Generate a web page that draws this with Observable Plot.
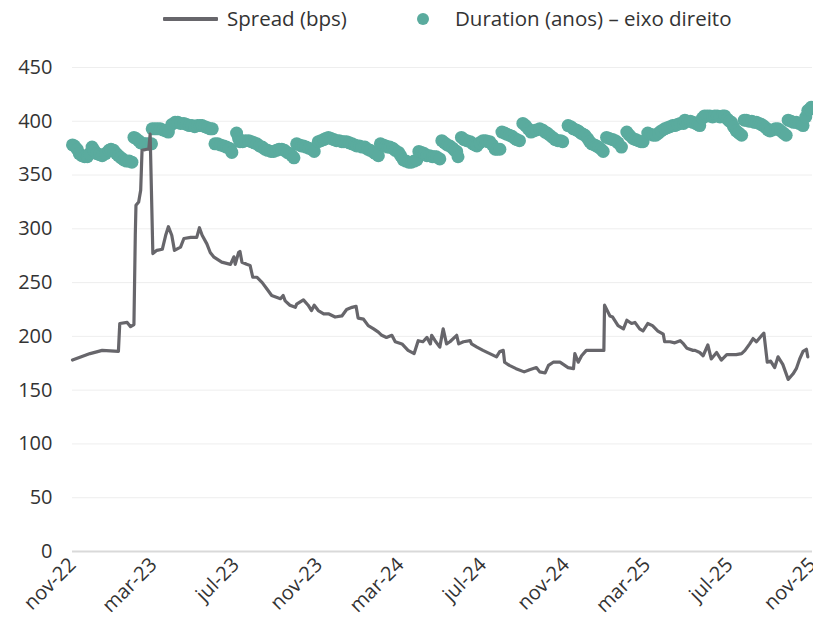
<!DOCTYPE html>
<html>
<head>
<meta charset="utf-8">
<script src="https://cdn.jsdelivr.net/npm/d3@7"></script>
<script src="https://cdn.jsdelivr.net/npm/@observablehq/plot@0.6"></script>
<style>
  html, body { margin: 0; padding: 0; background: #fff; }
  body { width: 813px; height: 629px; overflow: hidden; font-family: "Open Sans", sans-serif; color: #333; }
  #legend { position: relative; height: 40px; width: 813px; }
  #legend .sw-line { position: absolute; left: 163px; top: 17px; width: 55px; height: 4px; background: #67666b; border-radius: 1px; }
  #legend .sw-dot { position: absolute; left: 417px; top: 13px; width: 12px; height: 12px; border-radius: 50%; background: #5aab9e; }
  #legend .lbl { position: absolute; top: 5px; font-size: 20.5px; line-height: 26px; color: #333; white-space: nowrap; }
</style>
</head>
<body>
<div id="legend">
  <div class="sw-line"></div><div class="lbl" style="left:227px">Spread (bps)</div>
  <div class="sw-dot"></div><div class="lbl" style="left:455px">Duration (anos) – eixo direito</div>
</div>
<div id="chart"></div>
<script>
// Spread (bps) — left axis
const spreadDates = ["2022-11-01","2022-11-27","2022-12-15","2023-01-08","2023-01-10","2023-01-21","2023-01-26","2023-01-31","2023-02-02","2023-02-03","2023-02-07","2023-02-10","2023-02-12","2023-02-19","2023-02-22","2023-02-24","2023-02-28","2023-03-06","2023-03-14","2023-03-19","2023-03-23","2023-03-28","2023-04-01","2023-04-10","2023-04-15","2023-04-25","2023-05-04","2023-05-08","2023-05-12","2023-05-19","2023-05-24","2023-05-29","2023-06-10","2023-06-23","2023-06-28","2023-06-30","2023-07-05","2023-07-07","2023-07-10","2023-07-17","2023-07-22","2023-07-26","2023-08-01","2023-08-09","2023-08-16","2023-08-23","2023-09-05","2023-09-09","2023-09-12","2023-09-19","2023-09-27","2023-09-29","2023-10-09","2023-10-16","2023-10-21","2023-10-25","2023-10-31","2023-11-08","2023-11-15","2023-11-25","2023-12-05","2023-12-12","2023-12-20","2023-12-26","2023-12-29","2024-01-06","2024-01-13","2024-01-21","2024-01-28","2024-02-02","2024-02-09","2024-02-17","2024-02-22","2024-03-03","2024-03-12","2024-03-21","2024-03-27","2024-04-03","2024-04-09","2024-04-14","2024-04-16","2024-04-21","2024-04-28","2024-05-03","2024-05-08","2024-05-13","2024-05-23","2024-05-26","2024-06-02","2024-06-12","2024-06-14","2024-06-22","2024-07-01","2024-07-11","2024-07-21","2024-07-26","2024-07-31","2024-08-02","2024-08-09","2024-08-19","2024-08-31","2024-09-08","2024-09-18","2024-09-23","2024-10-01","2024-10-06","2024-10-13","2024-10-23","2024-11-04","2024-11-12","2024-11-14","2024-11-19","2024-11-24","2024-12-01","2024-12-27","2024-12-28","2025-01-05","2025-01-09","2025-01-17","2025-01-25","2025-01-30","2025-02-06","2025-02-11","2025-02-18","2025-02-23","2025-03-02","2025-03-09","2025-03-17","2025-03-25","2025-03-27","2025-04-04","2025-04-11","2025-04-19","2025-04-24","2025-04-29","2025-05-08","2025-05-11","2025-05-18","2025-05-23","2025-05-30","2025-06-04","2025-06-12","2025-06-19","2025-06-27","2025-07-11","2025-07-19","2025-07-24","2025-07-31","2025-08-05","2025-08-10","2025-08-18","2025-08-21","2025-08-26","2025-08-31","2025-09-06","2025-09-11","2025-09-18","2025-09-26","2025-10-03","2025-10-08","2025-10-13","2025-10-18","2025-10-23","2025-10-25"];
const spreadValues = [178,184,187,186,212,213,209,211,294,322,325,336,373,374,374,388,277,280,281,294,302,294,280,283,291,292,292,301,294,286,278,274,269,267,274,267,278,279,269,267,266,255,255,250,244,238,235,238,233,229,227,230,234,229,224,229,224,221,221,218,219,225,227,228,217,216,210,207,204,201,199,201,195,193,187,184,196,195,199,193,201,196,190,207,193,195,201,193,195,196,193,190,187,184,181,186,187,176,173,170,167,169,171,167,166,173,176,176,171,170,184,176,182,187,187,229,219,218,210,207,215,212,213,207,205,212,210,205,202,195,195,194,196,193,189,187,187,185,182,192,179,185,178,183,183,184,187,193,198,195,201,203,176,177,171,181,174,160,165,170,179,186,188,181];

// Duration (anos) — right axis (0–4,5 anos shares the gridlines of 0–450 bps)
const durationDates = [
"2022-11-01","2022-11-04","2022-11-08","2022-11-11","2022-11-15","2022-11-19","2022-11-23","2022-11-26","2022-11-30","2022-12-03","2022-12-07","2022-12-11","2022-12-15","2022-12-20","2022-12-25","2022-12-28","2023-01-01","2023-01-05","2023-01-08","2023-01-12","2023-01-16","2023-01-20","2023-01-24","2023-01-28",
"2023-01-31","2023-02-03","2023-02-07","2023-02-10","2023-02-14","2023-02-17","2023-02-21","2023-02-26",
"2023-02-27","2023-03-03","2023-03-07","2023-03-11","2023-03-15","2023-03-19","2023-03-23",
"2023-03-28","2023-04-02","2023-04-06","2023-04-10","2023-04-15","2023-04-19","2023-04-23","2023-04-27","2023-05-01","2023-05-05","2023-05-09","2023-05-12","2023-05-16","2023-05-20","2023-05-24","2023-05-27",
"2023-05-31","2023-06-04","2023-06-08","2023-06-13","2023-06-17","2023-06-21","2023-06-23","2023-06-25",
"2023-07-02","2023-07-05","2023-07-07","2023-07-11","2023-07-15","2023-07-20","2023-07-24","2023-07-28","2023-08-01","2023-08-05","2023-08-09","2023-08-13","2023-08-17","2023-08-22","2023-08-26","2023-08-30","2023-09-03","2023-09-07","2023-09-11","2023-09-15","2023-09-19","2023-09-22","2023-09-25",
"2023-09-29","2023-10-03","2023-10-06","2023-10-09","2023-10-13","2023-10-17","2023-10-21","2023-10-25",
"2023-10-31","2023-11-04","2023-11-08","2023-11-11","2023-11-15","2023-11-19","2023-11-23","2023-11-27","2023-12-01","2023-12-05","2023-12-08","2023-12-12","2023-12-16","2023-12-20","2023-12-24","2023-12-27","2023-12-31","2024-01-04","2024-01-08","2024-01-12","2024-01-16","2024-01-21","2024-01-24","2024-01-28",
"2024-01-31","2024-02-04","2024-02-08","2024-02-11","2024-02-14","2024-02-18","2024-02-22","2024-02-27","2024-03-01","2024-03-05","2024-03-09","2024-03-13","2024-03-17","2024-03-21","2024-03-25",
"2024-03-28","2024-04-01","2024-04-05","2024-04-09","2024-04-13","2024-04-17","2024-04-20","2024-04-23","2024-04-28",
"2024-05-01","2024-05-05","2024-05-09","2024-05-13","2024-05-17","2024-05-20","2024-05-23","2024-05-25",
"2024-05-30","2024-06-03","2024-06-07","2024-06-12","2024-06-16","2024-06-19","2024-06-22","2024-06-26","2024-07-01","2024-07-05","2024-07-08","2024-07-11","2024-07-15","2024-07-19","2024-07-22","2024-07-26",
"2024-07-29","2024-08-02","2024-08-05","2024-08-09","2024-08-13","2024-08-17","2024-08-20","2024-08-24",
"2024-08-29","2024-09-02","2024-09-06","2024-09-10","2024-09-14","2024-09-18","2024-09-23","2024-09-27","2024-10-01","2024-10-04","2024-10-08","2024-10-12","2024-10-16","2024-10-20","2024-10-24","2024-10-27",
"2024-11-04","2024-11-08","2024-11-12","2024-11-16","2024-11-19","2024-11-23","2024-11-26","2024-11-29","2024-12-03","2024-12-06","2024-12-09","2024-12-13","2024-12-16","2024-12-19","2024-12-23","2024-12-26",
"2024-12-31","2025-01-04","2025-01-09","2025-01-13","2025-01-17","2025-01-22",
"2025-01-30","2025-02-03","2025-02-08","2025-02-12","2025-02-16","2025-02-20","2025-02-23",
"2025-03-02","2025-03-06","2025-03-10","2025-03-14","2025-03-18","2025-03-22","2025-03-27","2025-03-31","2025-04-04","2025-04-08","2025-04-11","2025-04-15","2025-04-19","2025-04-24","2025-04-26","2025-04-30","2025-05-04","2025-05-08","2025-05-12","2025-05-15","2025-05-18",
"2025-05-22","2025-05-25","2025-05-29","2025-06-02","2025-06-06","2025-06-09","2025-06-13","2025-06-17","2025-06-21","2025-06-24","2025-06-28","2025-07-01","2025-07-04","2025-07-07","2025-07-11","2025-07-15","2025-07-19",
"2025-07-23","2025-07-26","2025-07-30","2025-08-03","2025-08-07","2025-08-10","2025-08-14","2025-08-17","2025-08-20","2025-08-24","2025-08-27","2025-08-30","2025-09-03","2025-09-07","2025-09-11","2025-09-15","2025-09-19","2025-09-23",
"2025-09-26","2025-09-30","2025-10-04","2025-10-08","2025-10-12","2025-10-16","2025-10-18","2025-10-22","2025-10-25","2025-10-28","2025-10-30"];
const durationValues = [
3.78,3.77,3.74,3.70,3.68,3.67,3.67,3.70,3.76,3.73,3.70,3.69,3.68,3.70,3.73,3.74,3.73,3.70,3.68,3.66,3.64,3.63,3.63,3.62,
3.85,3.84,3.82,3.80,3.79,3.79,3.79,3.79,
3.93,3.93,3.93,3.93,3.92,3.91,3.90,
3.97,3.99,3.99,3.98,3.98,3.97,3.96,3.96,3.95,3.96,3.96,3.96,3.95,3.94,3.93,3.93,
3.79,3.79,3.78,3.77,3.76,3.75,3.74,3.71,
3.89,3.84,3.81,3.81,3.82,3.82,3.81,3.80,3.79,3.77,3.76,3.74,3.73,3.72,3.72,3.73,3.74,3.74,3.73,3.71,3.70,3.68,3.66,
3.79,3.78,3.77,3.77,3.76,3.75,3.74,3.72,
3.81,3.82,3.83,3.84,3.85,3.84,3.83,3.82,3.82,3.81,3.81,3.81,3.80,3.79,3.78,3.77,3.77,3.76,3.76,3.74,3.73,3.71,3.70,3.68,
3.79,3.78,3.77,3.76,3.76,3.75,3.73,3.71,3.68,3.64,3.63,3.62,3.62,3.63,3.64,
3.72,3.71,3.70,3.68,3.68,3.67,3.67,3.67,3.65,
3.82,3.80,3.78,3.77,3.75,3.73,3.72,3.67,
3.85,3.83,3.82,3.81,3.79,3.78,3.77,3.80,3.82,3.82,3.81,3.81,3.78,3.74,3.74,3.74,
3.90,3.89,3.88,3.87,3.86,3.84,3.83,3.82,
3.98,3.96,3.93,3.90,3.91,3.92,3.93,3.92,3.90,3.89,3.87,3.85,3.83,3.82,3.82,3.81,
3.96,3.95,3.93,3.92,3.91,3.89,3.88,3.87,3.84,3.81,3.79,3.78,3.77,3.76,3.74,3.72,
3.85,3.84,3.83,3.82,3.80,3.76,
3.90,3.87,3.84,3.83,3.82,3.81,3.81,
3.89,3.88,3.87,3.87,3.89,3.91,3.93,3.94,3.95,3.96,3.96,3.97,3.98,3.98,4.01,4.00,4.00,3.99,3.98,3.97,3.96,
4.03,4.05,4.05,4.05,4.04,4.05,4.05,4.04,4.05,4.05,4.02,4.00,3.99,3.95,3.91,3.89,3.87,
4.01,4.01,4.00,4.00,3.99,3.99,3.98,3.97,3.96,3.94,3.92,3.91,3.92,3.93,3.93,3.91,3.89,3.87,
4.01,4.00,3.99,3.99,3.98,3.97,3.96,4.04,4.10,4.11,4.13];

const yTicks = [0, 50, 100, 150, 200, 250, 300, 350, 400, 450];
const xTickDates = ["2022-11-01","2023-03-01","2023-07-01","2023-11-01","2024-03-01","2024-07-01","2024-11-01","2025-03-01","2025-07-01","2025-11-01"];
const monthNames = ["jan","fev","mar","abr","mai","jun","jul","ago","set","out","nov","dez"];

const spread = spreadDates.map((d, i) => ({date: new Date(d), v: spreadValues[i]}));
const duration = durationDates.map((d, i) => ({date: new Date(d), v: durationValues[i] * 100}));
const fmt = d => monthNames[d.getUTCMonth()] + "-" + String(d.getUTCFullYear()).slice(2);

const chart = Plot.plot({
  width: 813,
  height: 589,
  marginTop: 27,
  marginBottom: 78,
  marginLeft: 72,
  marginRight: 1,
  style: {fontFamily: "'Open Sans', sans-serif", fontSize: "20px", color: "#333", background: "white", overflow: "visible"},
  x: {type: "utc", domain: [new Date("2022-11-01"), new Date("2025-11-01")], ticks: xTickDates.map(d => new Date(d)), tickFormat: fmt, tickRotate: -45, tickSize: 0, tickPadding: 10, label: null},
  y: {domain: [0, 450], ticks: yTicks, tickSize: 0, tickPadding: 20, label: null},
  marks: [
    Plot.ruleY(yTicks.filter(t => t > 0), {stroke: "#eeeeee", strokeWidth: 1}),
    Plot.ruleY([0], {stroke: "#d9d9d9", strokeWidth: 2}),
    Plot.dot(duration, {x: "date", y: "v", r: 6.5, fill: "#5aab9e", stroke: "none"}),
    Plot.line(spread, {x: "date", y: "v", stroke: "#67666b", strokeWidth: 3.2, strokeLinejoin: "round"})
  ]
});
document.getElementById("chart").appendChild(chart);
</script>
</body>
</html>
